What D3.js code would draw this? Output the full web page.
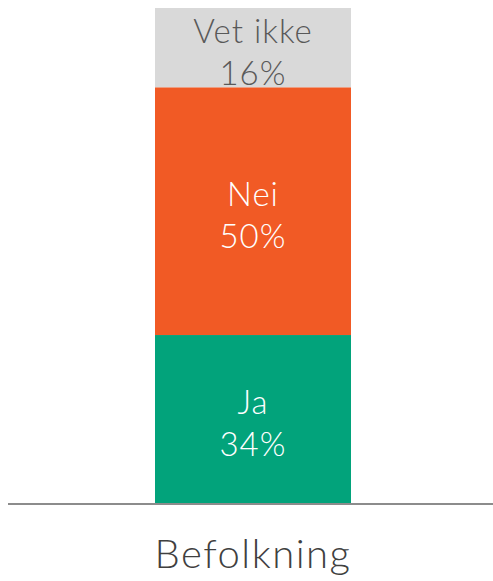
<!DOCTYPE html>
<html lang="no">
<head>
<meta charset="UTF-8">
<title>Befolkning</title>
<script src="https://cdn.jsdelivr.net/npm/d3@7"></script>
<style>
body { margin: 0; background: #fff; }
text { font-family: "Lato", "Noto Sans", sans-serif; font-weight: 300; }
</style>
</head>
<body>
<svg width="493" height="581"></svg>
<script>
var categories = ["Befolkning"];
var answers = ["Ja", "Nei", "Vet ikke"];
var values = [34, 50, 16];
var colors = ["#02a37b", "#f15a25", "#d9d9d9"];
var textColors = ["#ffffff", "#ffffff", "#595959"];

var svg = d3.select("svg");
var w = +svg.attr("width");

var x = d3.scaleBand().domain(categories).range([10, 496]).paddingInner(0).paddingOuter(0.3);
var y = d3.scaleLinear().domain([0, 100]).range([503.5, 8]);

// stacked segments
var stack = [];
var acc = 0;
values.forEach(function(v, i) {
    stack.push({ name: answers[i], v: v, y0: acc, y1: acc + v, color: colors[i], tc: textColors[i] });
    acc += v;
});

var bw = 196;
var cx = x(categories[0]) + x.bandwidth() / 2;

var g = svg.append("g");
g.selectAll("rect").data(stack).enter().append("rect")
    .attr("x", cx - bw / 2)
    .attr("width", bw)
    .attr("y", function(d) { return y(d.y1); })
    .attr("height", function(d) { return y(d.y0) - y(d.y1); })
    .attr("fill", function(d) { return d.color; });

var lab = g.selectAll("text.lab").data(stack).enter().append("text")
    .attr("class", "lab")
    .attr("text-anchor", "middle")
    .attr("fill", function(d) { return d.tc; })
    .style("font-size", "33px")
    .style("letter-spacing", "1px");
lab.append("tspan")
    .attr("x", cx)
    .attr("y", function(d) { return (y(d.y0) + y(d.y1)) / 2 - 5; })
    .text(function(d) { return d.name; });
lab.append("tspan")
    .attr("x", cx)
    .attr("y", function(d) { return (y(d.y0) + y(d.y1)) / 2 + 37; })
    .text(function(d) { return d.v + "%"; });

// baseline
svg.append("line")
    .attr("x1", 8).attr("x2", w)
    .attr("y1", 504).attr("y2", 504)
    .attr("stroke", "#8c8c8c").attr("stroke-width", 2);

svg.append("text")
    .attr("x", cx).attr("y", 568)
    .attr("text-anchor", "middle")
    .attr("fill", "#404040")
    .style("font-size", "40px")
    .style("letter-spacing", "1.5px")
    .text(categories[0]);
</script>
</body>
</html>
